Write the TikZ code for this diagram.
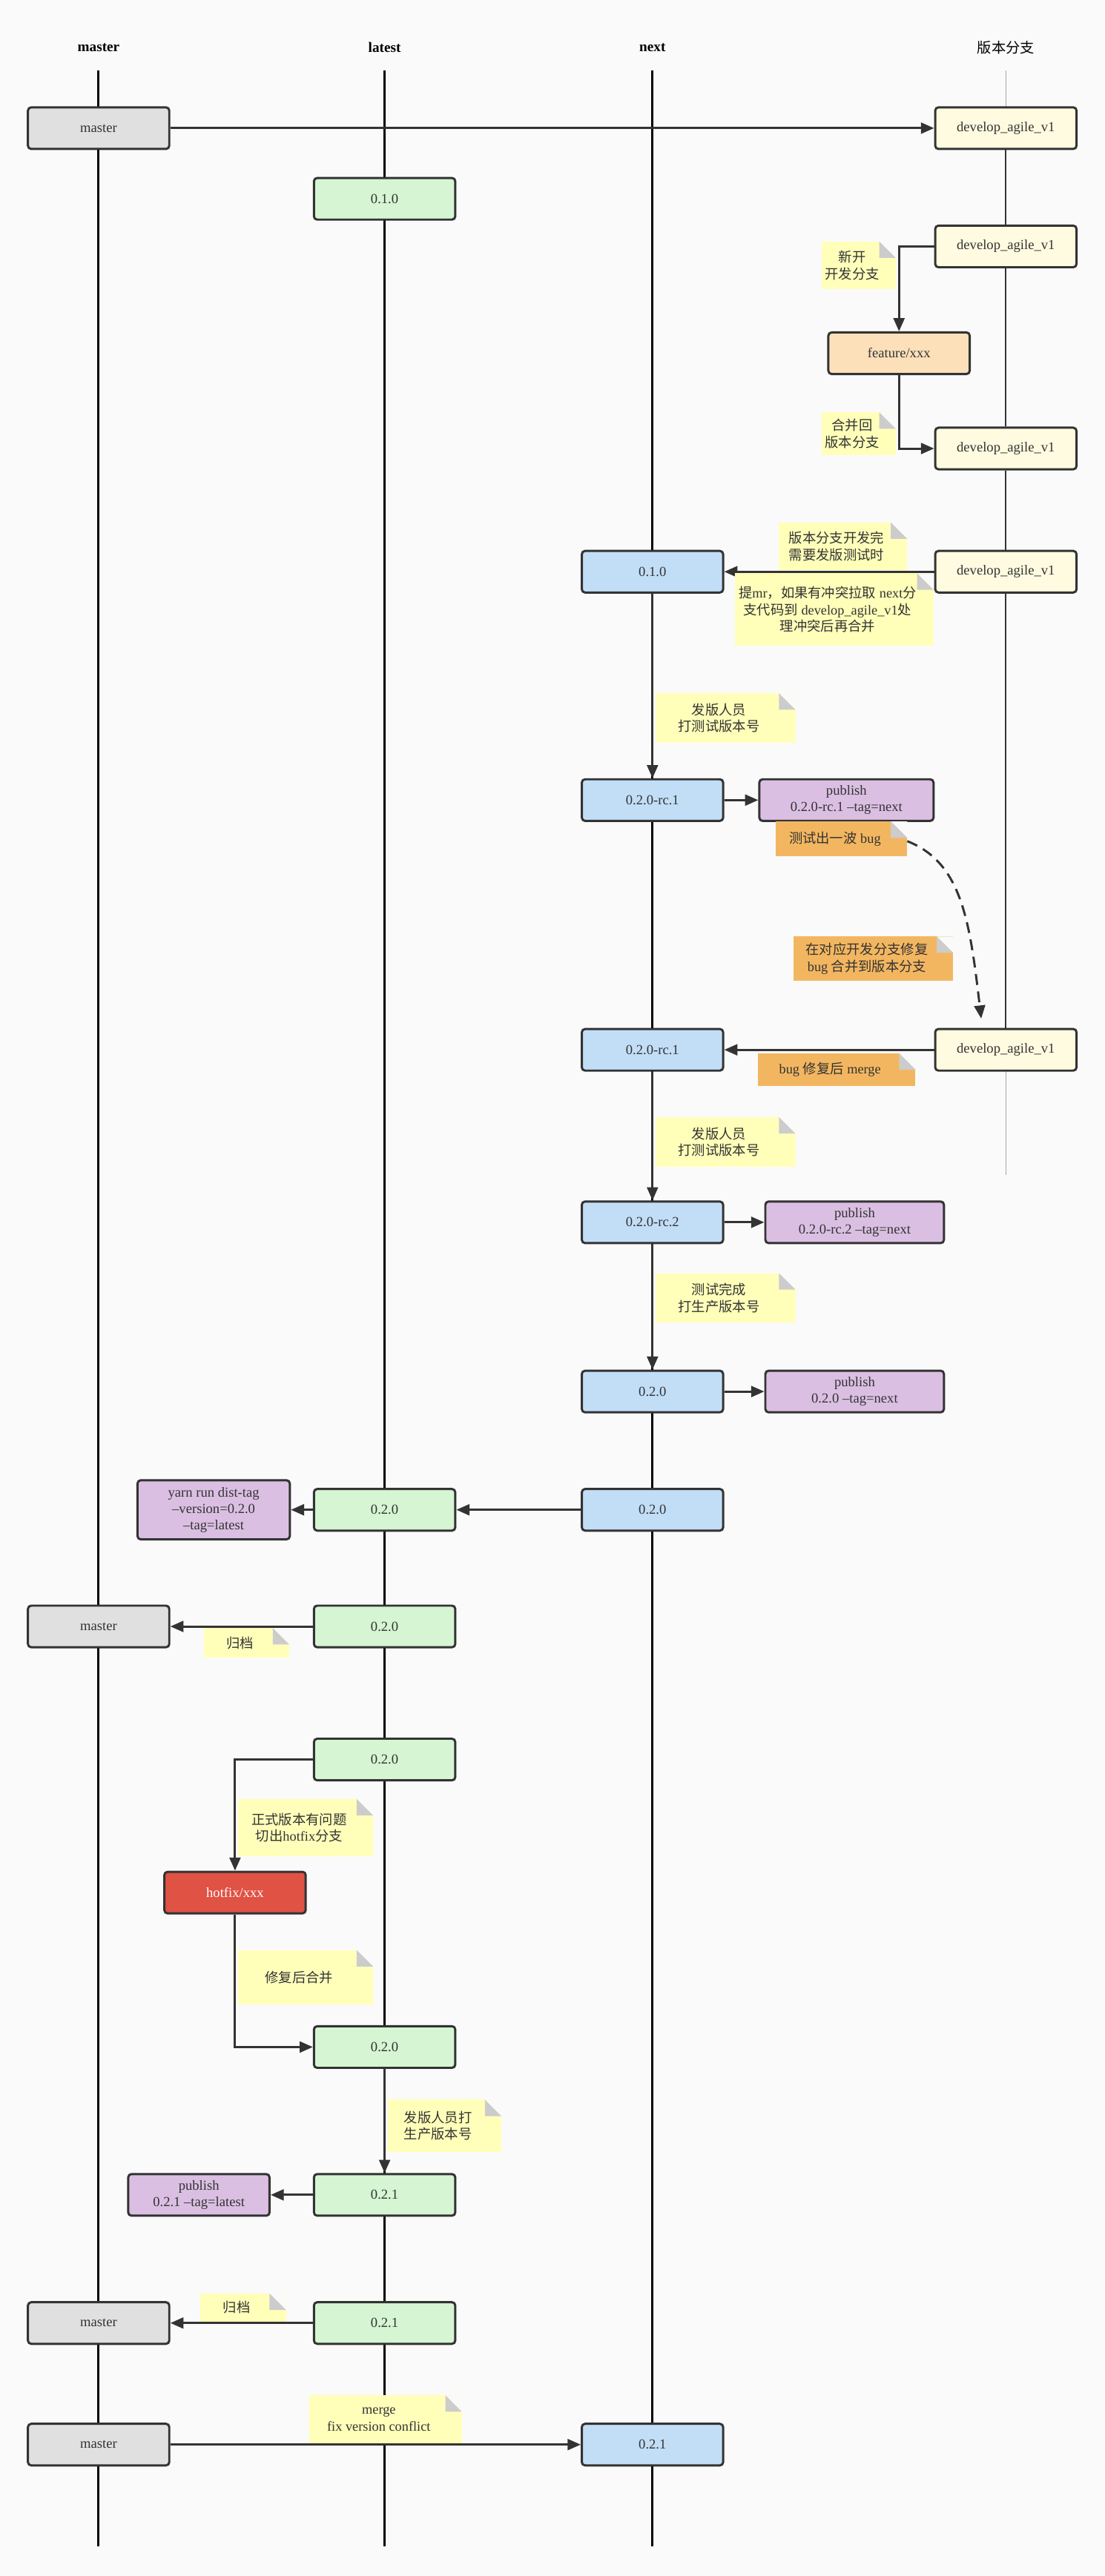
\documentclass[tikz,border=0pt]{standalone}
\usepackage{fontspec}
\setmainfont{Liberation Serif}
\newfontfamily\cjk{Noto Sans CJK SC}
\usetikzlibrary{arrows.meta}
\definecolor{bg}{HTML}{FAFAFA}
\definecolor{ln}{HTML}{333333}
\definecolor{cgray}{HTML}{E0E0E0}
\definecolor{cgreen}{HTML}{D5F5D3}
\definecolor{cblue}{HTML}{C2DEF7}
\definecolor{cyel}{HTML}{FFFBE0}
\definecolor{cfeat}{HTML}{FBE0BA}
\definecolor{cpurp}{HTML}{DBBFE3}
\definecolor{cred}{HTML}{E05244}
\definecolor{nyel}{HTML}{FFFFBA}
\definecolor{norg}{HTML}{F3B660}
\definecolor{fold}{HTML}{CCCCCC}
\tikzset{
 box/.style={draw=ln,line width=1pt,rounded corners=1.5pt,minimum width=64.5pt,minimum height=19pt,inner sep=1pt,align=center,font=\fontsize{6.3}{7.4}\selectfont,text=ln},
 gbox/.style={box,fill=cgray}, lbox/.style={box,fill=cgreen}, nbox/.style={box,fill=cblue},
 dbox/.style={box,fill=cyel}, pbox/.style={box,fill=cpurp},
 life/.style={line width=1pt,black},
 arr/.style={draw=ln,line width=1pt,-{Triangle[length=6pt,width=5pt]}},
 hdr/.style={font=\fontsize{6.5}{8}\selectfont\bfseries},
 ntxt/.style={font=\fontsize{6.2}{7.6}\selectfont,align=center,text=ln,inner sep=0pt},
}
\newcommand{\mynote}[7]{%
 \fill[#6] (#2,#3) rectangle (#4,#5);
 \fill[bg] (#4-10,#3) -- (#4,#3) -- (#4,#3+10) -- cycle;
 \fill[fold] (#4-10,#3) -- (#4,#3+10) -- (#4-10,#3+10) -- cycle;
 \node[ntxt] (#1) at ({(#2+#4-8)/2},{(#3+#5)/2}) {#7};}
\begin{document}
\begin{tikzpicture}[x=0.75pt,y=-0.75pt]
\fill[bg] (0,0) rectangle (672,1568);
\useasboundingbox (0,0) rectangle (672,1568);
% headers
\node[hdr] (h1) at (60,29) {master};
\node[hdr] (h2) at (234,29) {latest};
\node[hdr] (h3) at (397,29) {next};
\node[font=\fontsize{6.5}{8}\selectfont\cjk] (h4) at (612,29) {版本分支};
% lifelines
\draw[life] (60,43) -- (60,1550);
\draw[life] (234,43) -- (234,1550);
\draw[life] (397,43) -- (397,1550);
\draw[line width=0.5pt,gray!70] (612,43) -- (612,715);
% nodes
\node[gbox] (m1) at (60,78) {master};
\node[dbox] (d1) at (612,78) {develop\_agile\_v1};
\node[lbox] (l1) at (234,121) {0.1.0};
\node[dbox] (d2) at (612,150) {develop\_agile\_v1};
\node[box,fill=cfeat] (f1) at (547,215) {feature/xxx};
\node[dbox] (d3) at (612,273) {develop\_agile\_v1};
\node[nbox] (n1) at (397,348) {0.1.0};
\node[dbox] (d4) at (612,348) {develop\_agile\_v1};
\node[nbox] (n2) at (397,487) {0.2.0-rc.1};
\node[pbox,minimum width=79.5pt] (p1) at (515,487) {publish\\0.2.0-rc.1 --tag=next};
\node[nbox] (n3) at (397,639) {0.2.0-rc.1};
\node[dbox] (d5) at (612,639) {develop\_agile\_v1};
\node[nbox] (n4) at (397,744) {0.2.0-rc.2};
\node[pbox,minimum width=81.5pt] (p2) at (520,744) {publish\\0.2.0-rc.2 --tag=next};
\node[nbox] (n5) at (397,847) {0.2.0};
\node[pbox,minimum width=81.5pt] (p3) at (520,847) {publish\\0.2.0 --tag=next};
\node[nbox] (n6) at (397,919) {0.2.0};
\node[lbox] (l2) at (234,919) {0.2.0};
\node[pbox,minimum width=69.5pt,minimum height=27pt] (p4) at (130,919) {yarn run dist-tag\\--version=0.2.0\\--tag=latest};
\node[lbox] (l3) at (234,990) {0.2.0};
\node[gbox] (m2) at (60,990) {master};
\node[lbox] (l4) at (234,1071) {0.2.0};
\node[box,fill=cred,text=white] (hf) at (143,1152) {hotfix/xxx};
\node[lbox] (l5) at (234,1246) {0.2.0};
\node[lbox] (l6) at (234,1336) {0.2.1};
\node[pbox] (p5) at (121,1336) {publish\\0.2.1 --tag=latest};
\node[lbox] (l7) at (234,1414) {0.2.1};
\node[gbox] (m3) at (60,1414) {master};
\node[gbox] (m4) at (60,1488) {master};
\node[nbox] (n7) at (397,1488) {0.2.1};
% thin version line segments between boxes
\foreach \a/\b in {d1/d2,d2/d3,d3/d4,d4/d5} \draw[line width=0.6pt,ln] (\a.south) -- (\b.north);
% connectors
\draw[arr] (m1) -- (d1);
\draw[arr] (d2.west) -| (f1.north);
\draw[arr] (f1.south) |- (d3.west);
\draw[arr] (d4) -- (n1);
\draw[arr] (n1) -- (n2);
\draw[arr] (n2) -- (p1);
\coordinate (c1) at (552,512);
\coordinate (c2) at (597,620);
\draw[arr,dashed,dash pattern=on 5pt off 3pt] (c1) .. controls (585,525) and (590,560) .. (c2);
\draw[arr] (d5) -- (n3);
\draw[arr] (n3) -- (n4);
\draw[arr] (n4) -- (p2);
\draw[arr] (n4) -- (n5);
\draw[arr] (n5) -- (p3);
\draw[arr] (n6) -- (l2);
\draw[arr] (l2) -- (p4);
\draw[arr] (l3) -- (m2);
\draw[arr] (l4.west) -| (hf.north);
\draw[arr] (hf.south) |- (l5.west);
\draw[arr] (l5) -- (l6);
\draw[arr] (l6) -- (p5);
\draw[arr] (l7) -- (m3);
\draw[arr] (m4) -- (n7);
% notes
\mynote{t1}{500}{147}{545}{176}{nyel}{\cjk 新开\\\cjk 开发分支}
\mynote{t2}{500}{251}{545}{277}{nyel}{\cjk 合并回\\\cjk 版本分支}
\mynote{t3}{474}{318}{552}{347}{nyel}{\cjk 版本分支开发完\\\cjk 需要发版测试时}
\mynote{t4}{447}{349}{568}{393}{nyel}{{\cjk 提}mr{\cjk ，如果有冲突拉取} next{\cjk 分}\\{\cjk 支代码到} develop\_agile\_v1{\cjk 处}\\\cjk 理冲突后再合并}
\mynote{t5}{399}{422}{484}{452}{nyel}{\cjk 发版人员\\\cjk 打测试版本号}
\mynote{t6}{472}{500}{552}{521}{norg}{{\cjk 测试出一波} bug}
\mynote{t7}{483}{570}{580}{597}{norg}{\cjk 在对应开发分支修复\\bug {\cjk 合并到版本分支}}
\mynote{t8}{461}{641}{557}{661}{norg}{bug {\cjk 修复后} merge}
\mynote{t9}{399}{680}{484}{710}{nyel}{\cjk 发版人员\\\cjk 打测试版本号}
\mynote{t10}{399}{775}{484}{805}{nyel}{\cjk 测试完成\\\cjk 打生产版本号}
\mynote{t11}{124}{991}{176}{1009}{nyel}{\cjk 归档}
\mynote{t12}{145}{1095}{227}{1130}{nyel}{{\cjk 正式版本有问题}\\{\cjk 切出}hotfix{\cjk 分支}}
\mynote{t13}{145}{1187}{227}{1220}{nyel}{\cjk 修复后合并}
\mynote{t14}{236}{1278}{305}{1310}{nyel}{\cjk 发版人员打\\\cjk 生产版本号}
\mynote{t15}{122}{1396}{174}{1413}{nyel}{\cjk 归档}
\mynote{t16}{188}{1458}{281}{1487}{nyel}{merge\\fix version conflict}
\end{tikzpicture}
\end{document}
